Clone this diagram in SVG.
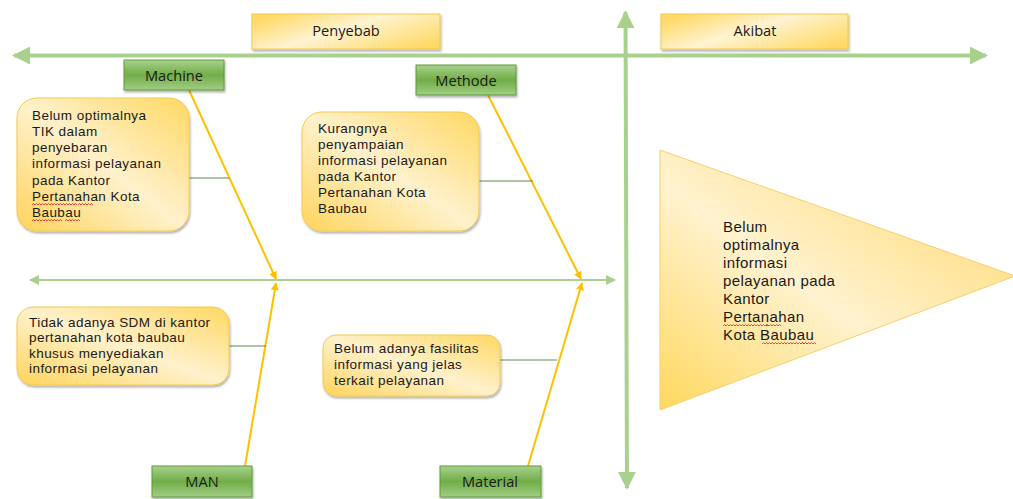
<svg xmlns="http://www.w3.org/2000/svg" width="1013" height="499" viewBox="0 0 1013 499">
<defs>
<linearGradient id="yel" x1="0" y1="1" x2="1" y2="0">
<stop offset="0" stop-color="#ffd45a"/>
<stop offset="0.5" stop-color="#fff1cc"/>
<stop offset="1" stop-color="#ffd862"/>
</linearGradient>
<linearGradient id="yelT" x1="0" y1="1" x2="0.8" y2="0.2">
<stop offset="0" stop-color="#ffd85e"/>
<stop offset="0.55" stop-color="#fff2cf"/>
<stop offset="1" stop-color="#ffe08a"/>
</linearGradient>
<linearGradient id="yelH" x1="0" y1="0.2" x2="1" y2="0.8">
<stop offset="0" stop-color="#ffd966"/>
<stop offset="0.45" stop-color="#fff3d1"/>
<stop offset="1" stop-color="#ffd966"/>
</linearGradient>
<linearGradient id="grn" x1="0" y1="0" x2="0" y2="1">
<stop offset="0" stop-color="#a9d18e"/>
<stop offset="0.5" stop-color="#70ad47"/>
<stop offset="1" stop-color="#a2cd85"/>
</linearGradient>
<filter id="sh" x="-10%" y="-10%" width="130%" height="140%">
<feDropShadow dx="1" dy="2" stdDeviation="1.2" flood-color="#000" flood-opacity="0.3"/>
</filter>
<marker id="ga" viewBox="0 0 10 10" refX="9" refY="5" markerWidth="4.5" markerHeight="4.5" orient="auto-start-reverse">
<path d="M0,0 L10,5 L0,10 z" fill="#a9d18e"/>
</marker>
<marker id="gs" viewBox="0 0 10 10" refX="9" refY="5" markerWidth="5" markerHeight="5" orient="auto-start-reverse">
<path d="M0,0 L10,5 L0,10 z" fill="#a9d18e"/>
</marker>
<marker id="ya" viewBox="0 0 10 10" refX="9" refY="5" markerWidth="4" markerHeight="4" orient="auto">
<path d="M0,0 L10,5 L0,10 z" fill="#ffc000"/>
</marker>
<path id="wave" d="M0,0 l1.5,-1.5 l1.5,1.5 l1.5,-1.5 l1.5,1.5 l1.5,-1.5 l1.5,1.5 l1.5,-1.5 l1.5,1.5 l1.5,-1.5 l1.5,1.5"/>
</defs>
<style>
text{font-family:"Open Sans","Noto Sans","Liberation Sans",sans-serif;fill:#1a1a1a}
.t{font-family:"Liberation Sans",Arial,sans-serif;font-size:13.5px;letter-spacing:0.45px}
.e{font-family:"Liberation Sans",Arial,sans-serif;font-size:15px;letter-spacing:0.4px}
.h{font-size:14.6px;text-anchor:middle}
.gb{fill:url(#grn);stroke:#5e9c3a;stroke-width:1;filter:url(#sh)}
.yb{fill:url(#yel);stroke:#f5c94c;stroke-width:1;filter:url(#sh)}
.hb{fill:url(#yelH);stroke:#f2c94c;stroke-width:1;filter:url(#sh)}
.bone{stroke:#ffc000;stroke-width:2;fill:none}
.tie{stroke:#5f8a4a;stroke-width:1;fill:none}
.sq{stroke:#e02020;stroke-width:0.8;fill:none}
</style>

<g id="connectors">
<line x1="14" y1="55.5" x2="986" y2="55.5" stroke="#a9d18e" stroke-width="4" marker-start="url(#ga)" marker-end="url(#ga)"/>
<line x1="625.5" y1="12" x2="627" y2="488" stroke="#a9d18e" stroke-width="4" marker-start="url(#ga)" marker-end="url(#ga)"/>
<line x1="30" y1="280" x2="615" y2="280" stroke="#a9d18e" stroke-width="2" marker-start="url(#gs)" marker-end="url(#gs)"/>
<line class="bone" x1="189" y1="90" x2="276" y2="279" marker-end="url(#ya)"/>
<line class="bone" x1="488" y1="95" x2="581" y2="279" marker-end="url(#ya)"/>
<line class="bone" x1="245" y1="466" x2="276" y2="283" marker-end="url(#ya)"/>
<line class="bone" x1="528" y1="466" x2="582" y2="283" marker-end="url(#ya)"/>
<line class="tie" x1="189" y1="178" x2="229" y2="178"/>
<line class="tie" x1="479" y1="181" x2="533" y2="181"/>
<line class="tie" x1="229" y1="346" x2="266" y2="346"/>
<line class="tie" x1="500" y1="360" x2="557" y2="360"/>
</g>

<g id="penyebab">
<rect class="hb" x="252" y="14" width="188" height="35"/>
<text class="h" x="346" y="36">Penyebab</text>
</g>
<g id="akibat">
<rect class="hb" x="661" y="14" width="187" height="35"/>
<text class="h" x="755" y="36">Akibat</text>
</g>

<g id="machine">
<rect class="gb" x="124" y="60" width="100" height="30"/>
<text class="h" x="174" y="80.5">Machine</text>
</g>
<g id="methode">
<rect class="gb" x="416" y="65" width="100" height="30"/>
<text class="h" x="466" y="85.5">Methode</text>
</g>
<g id="man">
<rect class="gb" x="152" y="466" width="100" height="31"/>
<text class="h" x="202" y="487">MAN</text>
</g>
<g id="material">
<rect class="gb" x="440" y="466" width="101" height="31"/>
<text class="h" x="490" y="487">Material</text>
</g>

<g id="cause-machine">
<rect class="yb" x="17" y="98" width="172" height="133" rx="20"/>
<text class="t" x="32" y="119.5">Belum optimalnya</text>
<text class="t" x="32" y="135.5">TIK dalam</text>
<text class="t" x="32" y="152">penyebaran</text>
<text class="t" x="32" y="168">informasi pelayanan</text>
<text class="t" x="32" y="184.5">pada Kantor</text>
<text class="t" x="32" y="200.5">Pertanahan Kota</text>
<text class="t" x="32" y="217">Baubau</text>
<use href="#wave" x="32" y="205" class="sq"/>
<use href="#wave" x="47" y="205" class="sq"/>
<use href="#wave" x="62" y="205" class="sq"/>
<use href="#wave" x="92" y="205" class="sq" transform="translate(-14,0)"/>
<use href="#wave" x="32" y="221" class="sq"/>
<use href="#wave" x="47" y="221" class="sq"/>
<use href="#wave" x="65" y="221" class="sq"/>
</g>

<g id="cause-methode">
<rect class="yb" x="302" y="112" width="177" height="119" rx="20"/>
<text class="t" x="318" y="132.5">Kurangnya</text>
<text class="t" x="318" y="148.5">penyampaian</text>
<text class="t" x="318" y="164.5">informasi pelayanan</text>
<text class="t" x="318" y="180.5">pada Kantor</text>
<text class="t" x="318" y="196.5">Pertanahan Kota</text>
<text class="t" x="318" y="212.5">Baubau</text>
</g>

<g id="cause-man">
<rect class="yb" x="17" y="307" width="212" height="78" rx="16"/>
<text class="t" x="29" y="326.5">Tidak adanya SDM di kantor</text>
<text class="t" x="29" y="342">pertanahan kota baubau</text>
<text class="t" x="29" y="357.5">khusus menyediakan</text>
<text class="t" x="29" y="373">informasi pelayanan</text>
</g>

<g id="cause-material">
<rect class="yb" x="323" y="335" width="177" height="61" rx="13"/>
<text class="t" x="334" y="352.5">Belum adanya fasilitas</text>
<text class="t" x="334" y="368.5">informasi yang jelas</text>
<text class="t" x="334" y="384.5">terkait pelayanan</text>
</g>

<g id="effect">
<polygon points="660,150 1015,276 660,410" fill="url(#yelT)" stroke="#f5d070" stroke-width="1"/>
<text class="e" x="723" y="232">Belum</text>
<text class="e" x="723" y="250">optimalnya</text>
<text class="e" x="723" y="268">informasi</text>
<text class="e" x="723" y="286">pelayanan pada</text>
<text class="e" x="723" y="304">Kantor</text>
<text class="e" x="723" y="322">Pertanahan</text>
<text class="e" x="723" y="340">Kota Baubau</text>
<use href="#wave" x="723" y="326" class="sq"/>
<use href="#wave" x="738" y="326" class="sq"/>
<use href="#wave" x="753" y="326" class="sq"/>
<use href="#wave" x="766" y="326" class="sq"/>
<use href="#wave" x="762" y="344" class="sq"/>
<use href="#wave" x="777" y="344" class="sq"/>
<use href="#wave" x="792" y="344" class="sq"/>
<use href="#wave" x="801" y="344" class="sq"/>
</g>
</svg>
